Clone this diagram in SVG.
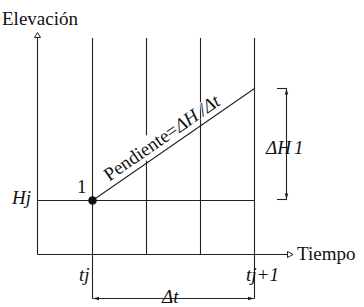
<svg xmlns="http://www.w3.org/2000/svg" width="364" height="307" viewBox="0 0 364 307">
<defs>
<style>
.ln{stroke:#222;stroke-width:1.1;fill:none}
.t{font-family:"Liberation Serif","Times New Roman",serif;font-size:19px;fill:#111}
.i{font-style:italic}
.ah{fill:#fff;stroke:#222;stroke-width:1}
.fa{fill:#222;stroke:none}
</style>
</defs>
<rect width="364" height="307" fill="#fff"/>
<g id="grid" class="ln">
<line x1="92.5" y1="38" x2="92.5" y2="298.5"/>
<line x1="146.5" y1="38" x2="146.5" y2="254.5"/>
<line x1="200.5" y1="38" x2="200.5" y2="254.5"/>
<line x1="254.5" y1="38" x2="254.5" y2="298.5"/>
<line x1="37.5" y1="200.5" x2="254.5" y2="200.5"/>
</g>
<g id="axes">
<line class="ln" x1="37.5" y1="37.5" x2="37.5" y2="254.5"/>
<polygon class="ah" points="37.5,32.5 34.5,37.5 40.5,37.5"/>
<line class="ln" x1="37.5" y1="254.5" x2="287.5" y2="254.5"/>
<polygon class="ah" points="293,254.5 287.5,251.5 287.5,257.5"/>
<text class="t" x="2" y="25">Elevación</text>
<text class="t" x="297" y="260">Tiempo</text>
</g>
<g id="slope">
<line class="ln" x1="92.5" y1="200.5" x2="254.5" y2="88.5"/>
<g transform="translate(92.5,200.5) rotate(-34.66)">
<rect x="22" y="-23" width="86" height="21" fill="#fff"/>
<text class="t" x="24.5" y="-6" stroke="#fff" stroke-width="2" paint-order="stroke">Pendiente=<tspan class="i">ΔH</tspan><tspan class="i" dx="4">/Δt</tspan></text>
</g>
</g>
<g id="point1">
<circle cx="92.5" cy="200.5" r="4.3" fill="#111"/>
<text class="t" x="77" y="193">1</text>
<text class="t i" x="12" y="204">Hj</text>
</g>
<g id="dimH">
<line class="ln" x1="286.5" y1="88.5" x2="286.5" y2="199.5"/>
<line class="ln" x1="277" y1="88.5" x2="287" y2="88.5"/>
<line class="ln" x1="277" y1="199.5" x2="287" y2="199.5"/>
<polygon class="fa" points="286.5,89 284.7,94.5 288.3,94.5"/>
<polygon class="fa" points="286.5,199 284.7,193.5 288.3,193.5"/>
<text class="t i" x="266" y="154">ΔH<tspan dx="3">1</tspan></text>
</g>
<g id="dimT">
<line class="ln" x1="92.5" y1="298.5" x2="254.5" y2="298.5"/>
<polygon class="fa" points="93,298.5 99,296.7 99,300.3"/>
<polygon class="fa" points="254,298.5 248,296.7 248,300.3"/>
<text class="t i" x="79" y="281">tj</text>
<text class="t i" x="246" y="281">tj+1</text>
<text class="t i" x="162" y="303">Δt</text>
</g>
</svg>
